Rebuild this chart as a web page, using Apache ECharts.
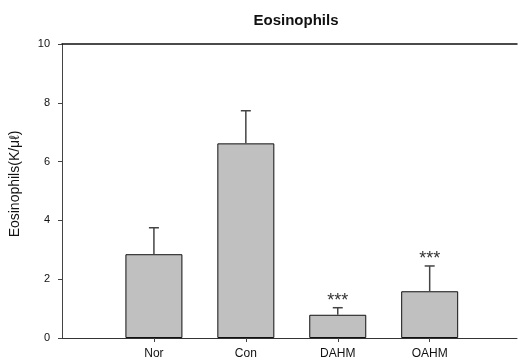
<!DOCTYPE html>
<html>
<head>
<meta charset="utf-8">
<script src="https://cdn.jsdelivr.net/npm/echarts@6/dist/echarts.min.js"></script>
<style>
  html, body { margin: 0; padding: 0; background: #fff; }
  #chart { width: 518px; height: 360px; }
</style>
</head>
<body>
<div id="chart"></div>
<script>
// Eosinophil counts per group (mean and upper SD), with significance marks
const groups = ['Nor', 'Con', 'DAHM', 'OAHM'];
const means = [2.85, 6.62, 0.79, 1.59];
const errors = [0.90, 1.11, 0.24, 0.86];
const marks = ['', '', '***', '***'];
const yTicks = [0, 2, 4, 6, 8, 10];

// groups sit at positions 1..4 on a numeric x scale
const positions = groups.map((g, i) => i + 1);
const barData = groups.map((g, i) => [positions[i], means[i]]);
const errData = groups.map((g, i) => [positions[i], means[i], errors[i]]);

const FONT = 'Liberation Sans, Arial, sans-serif';
const chart = echarts.init(document.getElementById('chart'), null, { renderer: 'canvas' });

chart.setOption({
  animation: false,
  backgroundColor: '#ffffff',
  title: {
    text: 'Eosinophils',
    left: 291,
    textAlign: 'center',
    top: 8,
    textStyle: { fontFamily: FONT, fontSize: 15, fontWeight: 'bold', color: '#111' }
  },
  grid: { left: 60, right: 1, top: 44, bottom: 22 },
  xAxis: [
    {
      type: 'value',
      min: 0,
      max: 4.95,
      interval: 1,
      splitLine: { show: false },
      axisLine: { show: true, onZero: false, lineStyle: { color: '#333', width: 1 } },
      axisTick: { show: true, customValues: positions, length: 4, lineStyle: { color: '#444' } },
      axisLabel: {
        customValues: positions,
        margin: 10,
        fontFamily: FONT,
        fontSize: 12,
        color: '#111',
        formatter: v => groups[Math.round(v) - 1] || ''
      }
    },
    {
      type: 'value',
      position: 'top',
      min: 0,
      max: 4.95,
      splitLine: { show: false },
      axisLine: { show: true, onZero: false, lineStyle: { color: '#111', width: 1.5 } },
      axisTick: { show: false },
      axisLabel: { show: false }
    }
  ],
  yAxis: {
    type: 'value',
    min: yTicks[0],
    max: yTicks[yTicks.length - 1],
    interval: 2,
    splitLine: { show: false },
    axisLine: { show: true, lineStyle: { color: '#444', width: 1 } },
    axisTick: { show: true, length: 4, lineStyle: { color: '#444' } },
    axisLabel: { margin: 12, fontFamily: FONT, fontSize: 11, color: '#111' },
    name: 'Eosinophils(K/μℓ)',
    nameLocation: 'middle',
    nameGap: 40,
    nameTextStyle: { fontFamily: FONT, fontSize: 14, color: '#111', padding: [0, 0, 0, 14] }
  },
  series: [
    {
      type: 'bar',
      xAxisIndex: 0,
      data: barData,
      barWidth: 57,
      itemStyle: { color: '#c0c0c0', borderColor: '#111', borderWidth: 1 },
      z: 2
    },
    {
      type: 'custom',
      xAxisIndex: 0,
      data: errData,
      z: 3,
      renderItem: function (params, api) {
        const x = api.value(0);
        const m = api.value(1);
        const e = api.value(2);
        const mark = marks[params.dataIndex];
        const base = api.coord([x, m]);
        const top = api.coord([x, m + e]);
        const cap = 5;
        const children = [
          { type: 'line', shape: { x1: base[0], y1: base[1], x2: top[0], y2: top[1] },
            style: { stroke: '#444', lineWidth: 1.5 } },
          { type: 'line', shape: { x1: top[0] - cap, y1: top[1], x2: top[0] + cap, y2: top[1] },
            style: { stroke: '#444', lineWidth: 1.5 } }
        ];
        if (mark) {
          children.push({
            type: 'text',
            style: {
              text: mark, x: top[0], y: top[1] - 16,
              align: 'center', verticalAlign: 'top',
              font: '18px ' + FONT, fill: '#333'
            }
          });
        }
        return { type: 'group', children: children };
      }
    }
  ]
});
</script>
</body>
</html>
